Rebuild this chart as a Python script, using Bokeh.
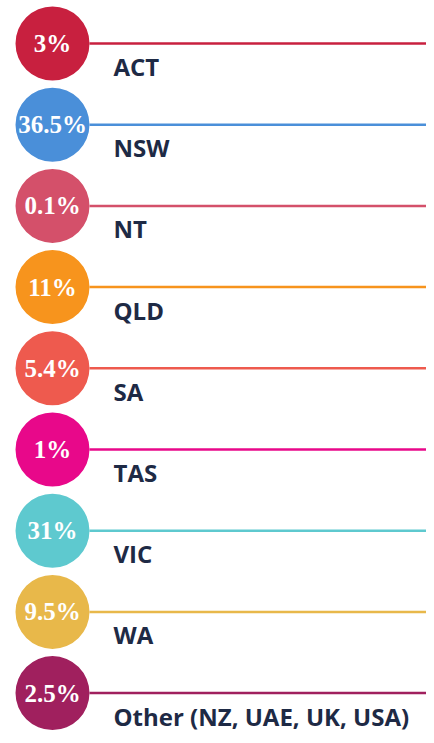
from bokeh.plotting import figure
from bokeh.models import Range1d, ColumnDataSource
from bokeh.core.properties import value
from bokeh.embed import file_html
from bokeh.resources import INLINE

regions = ["ACT", "NSW", "NT", "QLD", "SA", "TAS", "VIC", "WA", "Other (NZ, UAE, UK, USA)"]
shares = [3, 36.5, 0.1, 11, 5.4, 1, 31, 9.5, 2.5]
colors = ["#c8203f", "#4a8fd9", "#d4506a", "#f7941d", "#ee5a4e",
          "#e8088a", "#5ec9cf", "#e8b84a", "#a0205e"]

rows = list(range(len(regions)))
pct = [f"{v:g}%" for v in shares]
n = len(rows)

W, H = 426, 735
top_center, spacing = 43.0, 81.2
y_top = (0 - top_center) / spacing
y_bot = (H - top_center) / spacing

src = ColumnDataSource(dict(row=rows, label=regions, pct=pct, color=colors,
                            cx=[52] * n, x0=[89] * n, x1=[426] * n, tx=[113] * n))

p = figure(width=W, height=H, output_backend="svg", toolbar_location=None,
           x_range=Range1d(0, W), y_range=Range1d(y_bot, y_top),
           min_border=0)
p.axis.visible = False
p.grid.visible = False
p.outline_line_color = None
p.background_fill_color = "white"

p.segment(x0="x0", x1="x1", y0="row", y1="row", line_color="color",
          line_width=2.5, source=src)
p.circle(x="cx", y="row", radius=37, radius_units="screen", fill_color="color",
         line_color=None, source=src)
p.text(x="cx", y="row", text="pct", text_color="white",
       text_font=value("Liberation Serif"), text_font_style="bold",
       text_font_size="25px", text_align="center", text_baseline="middle",
       y_offset=0, source=src)
p.text(x="tx", y="row", text="label", text_color="#1e2a45",
       text_font=value("Open Sans"), text_font_style="bold",
       text_font_size="24px", text_align="left", text_baseline="alphabetic",
       y_offset=23, source=src)

open("out.html", "w").write(file_html(p, INLINE))
